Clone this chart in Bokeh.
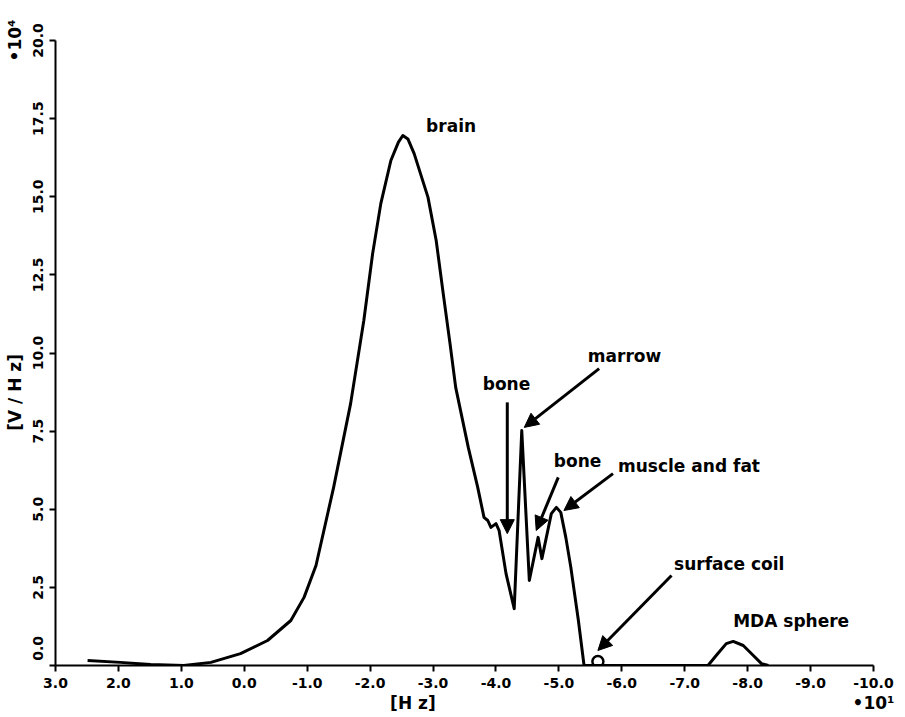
import math
from bokeh.plotting import figure
from bokeh.models import (Range1d, FixedTicker, PrintfTickFormatter, Label, Arrow,
                          NormalHead, LinearAxis)
from bokeh.embed import file_html
from bokeh.resources import INLINE

# Spectrum (x in Hz * 10^1, y in V/Hz * 10^4)
freq = [2.49, 1.97, 1.49, 0.96, 0.53, 0.06, -0.37, -0.74, -0.95, -1.14, -1.42, -1.69,
        -1.90, -2.04, -2.17, -2.33, -2.45, -2.52, -2.60, -2.70, -2.92, -3.05, -3.17,
        -3.27, -3.36, -3.56, -3.71, -3.81, -3.87, -3.92, -4.00, -4.05, -4.16, -4.29,
        -4.41, -4.53, -4.67, -4.73, -4.88, -4.96, -5.03, -5.11, -5.19, -5.31, -5.40,
        -6.50, -7.37, -7.50, -7.66, -7.77, -7.93, -8.09, -8.22, -8.33]
signal = [0.16, 0.10, 0.03, 0.00, 0.10, 0.38, 0.80, 1.44, 2.18, 3.20, 5.70, 8.38,
          11.04, 13.18, 14.78, 16.16, 16.75, 16.96, 16.85, 16.38, 14.98, 13.60, 11.78,
          10.30, 8.90, 6.98, 5.70, 4.74, 4.64, 4.42, 4.54, 4.32, 2.94, 1.82,
          7.52, 2.72, 4.10, 3.42, 4.86, 5.06, 4.90, 4.10, 3.14, 1.44, 0.00,
          0.00, 0.00, 0.32, 0.70, 0.77, 0.64, 0.32, 0.06, 0.00]

x_ticks = [3, 2, 1, 0, -1, -2, -3, -4, -5, -6, -7, -8, -9, -10]
y_ticks = [0, 2.5, 5, 7.5, 10, 12.5, 15, 17.5, 20]

coil_x = [-5.62]
coil_y = [0.13]

labels = ["brain", "bone", "marrow", "bone", "muscle and fat", "surface coil", "MDA sphere"]
label_x = [-2.89, -3.79, -5.46, -4.92, -5.94, -6.83, -7.77]
label_y = [17.28, 9.02, 9.92, 6.56, 6.37, 3.26, 1.44]

arrow_x0 = [-4.18, -5.64, -4.99, -5.86, -6.79]
arrow_y0 = [8.42, 9.50, 6.02, 6.14, 2.88]
arrow_x1 = [-4.18, -4.45, -4.64, -5.08, -5.62]
arrow_y1 = [4.22, 7.62, 4.32, 4.96, 0.48]

x_title = "[H z]"
x_title_pos = -2.68
x_mult = "•10¹"
x_mult_pos = -10.0
y_title = "[V / H z]"
y_title_pos = 8.74
y_mult = "•10⁴"
y_mult_pos = 20.0

FONT = "DejaVu Sans"

p = figure(width=905, height=717, x_range=Range1d(3, -10), y_range=Range1d(0, 20),
           output_backend="svg", toolbar_location=None,
           min_border_left=55, min_border_right=32, min_border_top=40, min_border_bottom=52)
p.outline_line_color = None
p.grid.visible = False
p.background_fill_color = "white"

for ax in (p.xaxis[0], p.yaxis[0]):
    ax.axis_line_width = 2
    ax.axis_line_color = "black"
    ax.major_tick_line_width = 2
    ax.major_tick_out = 6
    ax.major_tick_in = 0
    ax.minor_tick_out = 0
    ax.minor_tick_in = 0
    ax.major_label_text_font = FONT
    ax.major_label_text_font_style = "bold"
    ax.major_label_text_font_size = "14px"
    ax.major_label_text_color = "black"
    ax.formatter = PrintfTickFormatter(format="%.1f")

p.xaxis.ticker = FixedTicker(ticks=x_ticks)
p.yaxis.ticker = FixedTicker(ticks=y_ticks)
p.yaxis.major_label_orientation = "vertical"
p.yaxis.major_label_overrides = {0: "\u00a0" * 7 + "0.0"}
p.xaxis.major_label_standoff = 6
p.yaxis.major_label_standoff = 4

# secondary axes carrying the axis titles and multipliers
x2 = LinearAxis(ticker=FixedTicker(ticks=[x_title_pos, x_mult_pos]),
                major_label_overrides={x_title_pos: x_title, x_mult_pos: x_mult})
y2 = LinearAxis(ticker=FixedTicker(ticks=[y_title_pos, y_mult_pos]),
                major_label_overrides={y_title_pos: y_title, y_mult_pos: y_mult},
                major_label_orientation="vertical")
for ax in (x2, y2):
    ax.axis_line_color = None
    ax.major_tick_line_color = None
    ax.minor_tick_line_color = None
    ax.major_tick_out = 0
    ax.major_tick_in = 0
    ax.minor_tick_out = 0
    ax.minor_tick_in = 0
    ax.major_label_standoff = 2
    ax.major_label_text_font = FONT
    ax.major_label_text_font_style = "bold"
    ax.major_label_text_font_size = "17px"
    ax.major_label_text_color = "black"
p.add_layout(x2, "below")
p.add_layout(y2, "left")

p.line(freq, signal, line_color="black", line_width=3, line_join="round")
p.scatter(coil_x, coil_y, marker="circle", size=11, fill_color=None,
          line_color="black", line_width=2.5)

for t, x, y in zip(labels, label_x, label_y):
    p.add_layout(Label(x=x, y=y, text=t, text_font=FONT, text_font_style="bold",
                       text_font_size="17px", text_baseline="middle", text_align="left",
                       text_color="black"))

for x0, y0, x1, y1 in zip(arrow_x0, arrow_y0, arrow_x1, arrow_y1):
    p.add_layout(Arrow(x_start=x0, y_start=y0, x_end=x1, y_end=y1, line_width=3,
                       line_color="black",
                       end=NormalHead(size=14, fill_color="black", line_color="black")))

open("out.html", "w").write(file_html(p, INLINE))
